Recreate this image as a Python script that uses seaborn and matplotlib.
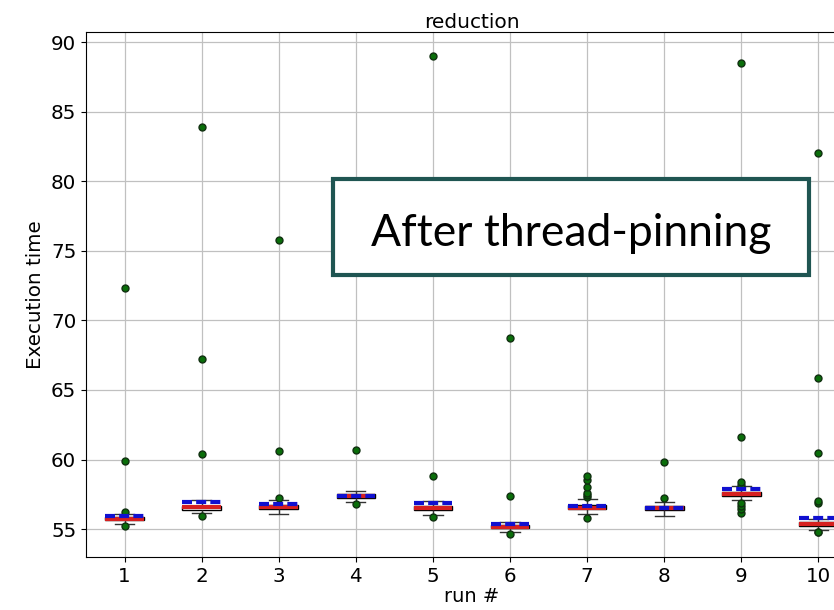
import numpy as np
import pandas as pd
import matplotlib
matplotlib.use("Agg")
import matplotlib.pyplot as plt
import seaborn as sns
from matplotlib.patches import Rectangle

runs = ["1", "2", "3", "4", "5", "6", "7", "8", "9", "10"]
whisker_lo = [55.38, 56.15, 56.08, 56.95, 56.02, 54.78, 56.08, 55.98, 57.13, 54.95]
q1 = [55.63, 56.41, 56.46, 57.25, 56.40, 55.07, 56.43, 56.35, 57.40, 55.25]
median = [55.74, 56.56, 56.60, 57.37, 56.53, 55.17, 56.53, 56.49, 57.54, 55.36]
q3 = [55.86, 56.70, 56.75, 57.50, 56.66, 55.32, 56.73, 56.63, 57.68, 55.50]
whisker_hi = [56.12, 57.10, 57.10, 57.71, 57.03, 55.52, 57.15, 56.96, 58.08, 55.74]
fliers = [
    [55.25, 56.25, 59.89, 72.30],
    [55.93, 60.39, 67.22, 83.89],
    [57.22, 60.60, 75.77],
    [56.84, 60.66],
    [55.90, 58.81, 88.99],
    [54.68, 57.39, 68.73],
    [55.81, 57.32, 57.44, 57.61, 58.00, 58.52, 58.79],
    [57.23, 59.84],
    [56.17, 56.42, 56.65, 56.89, 58.20, 58.38, 61.61, 88.49],
    [54.78, 54.82, 56.85, 57.01, 60.46, 65.85, 82.02],
]

# Build 101 observations per run reproducing the read-off box statistics
rows = []
for i, r in enumerate(runs):
    lo_f = [v for v in fliers[i] if v < q1[i]]
    hi_f = [v for v in fliers[i] if v > q3[i]]
    vals = (lo_f + [whisker_lo[i]] + [q1[i]] * (37 - len(lo_f)) + [median[i]] * 25
            + [q3[i]] * (37 - len(hi_f)) + [whisker_hi[i]] + hi_f)
    for v in vals:
        rows.append((r, v))
df = pd.DataFrame(rows, columns=["run", "time"])

plt.rcParams["font.family"] = ["DejaVu Sans"]
fig = plt.figure(figsize=(8.34, 6.10), dpi=100)
ax = fig.add_axes([86 / 834, 53 / 610, 771 / 834, 525 / 610])

sns.boxplot(
    data=df, x="run", y="time", order=runs, ax=ax,
    color="white", linecolor="black", linewidth=1.0, width=0.5,
    whis=1.5, fliersize=5, saturation=1,
    showmeans=True, meanline=True,
    medianprops=dict(color="#d62020", linewidth=3),
    meanprops=dict(color="#1010d0", linestyle=(0, (2.4, 1.0)), linewidth=3),
    flierprops=dict(marker="o", markerfacecolor="#0a6e0a", markeredgecolor="#103010",
                    markersize=5),
    whiskerprops=dict(color="#333333"), capprops=dict(color="#333333"),
)

ax.set_xlim(-0.5, 9.5)
ax.set_ylim(53.0, 90.72)
ax.set_yticks([55, 60, 65, 70, 75, 80, 85, 90])
ax.grid(True, color="#c0c0c0", linewidth=0.9)
ax.set_axisbelow(True)
ax.tick_params(labelsize=14.3)
ax.set_title("reduction", fontsize=14.5, pad=3)
ax.set_xlabel("run #", fontsize=14, labelpad=1)
ax.set_ylabel("Execution time", fontsize=14.3)

rect = Rectangle((333 / 834, 1 - 275 / 610), (809 - 333) / 834, (275 - 179) / 610,
                 transform=fig.transFigure, fill=True, facecolor="white",
                 edgecolor="#1f5552", linewidth=3, zorder=10)
fig.patches.append(rect)
fig.text(571 / 834, 1 - 233 / 610, "After thread-pinning", fontsize=32,
         family=["Lato", "DejaVu Sans"], ha="center", va="center", zorder=11)

fig.savefig("out.png", dpi=100)
